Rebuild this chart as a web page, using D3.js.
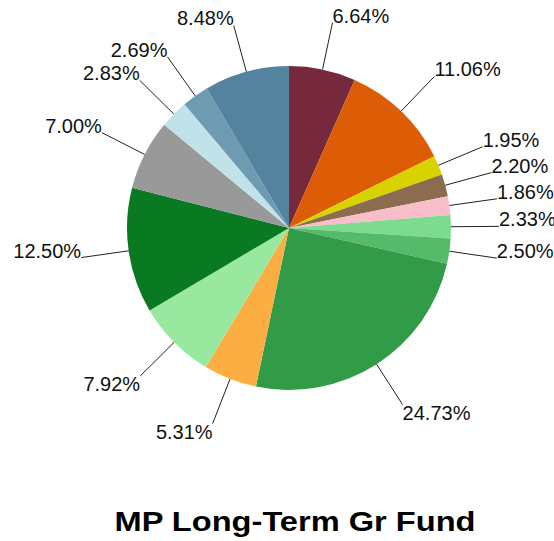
<!DOCTYPE html>
<html><head><meta charset="utf-8">
<script src="https://cdn.jsdelivr.net/npm/d3@7"></script>
<style>html,body{margin:0;padding:0;background:#fff;}svg{display:block;}</style>
</head><body>
<script>
const labels = ["6.64%","11.06%","1.95%","2.20%","1.86%","2.33%","2.50%","24.73%","5.31%","7.92%","12.50%","7.00%","2.83%","2.69%","8.48%"];
const values = [6.64,11.06,1.95,2.20,1.86,2.33,2.50,24.73,5.31,7.92,12.50,7.00,2.83,2.69,8.48];
const colors = ["#76293c","#dc5d05","#d8d200","#8c6c4f","#f9bdca","#7ddb8f","#55bb6b","#319b48","#fdae42","#98e8a0","#0a7a22","#999999","#c1e2e9","#6f9bb2","#53839e"];
const title = "MP Long-Term Gr Fund";

const W = 554, H = 541, cx = 289, cy = 228, R = 162, LR = 210;
const svg = d3.select("body").append("svg").attr("width", W).attr("height", H);
const g = svg.append("g").attr("transform", `translate(${cx},${cy})`);
const pie = d3.pie().sort(null).value(d => d)(values);
const arc = d3.arc().innerRadius(0).outerRadius(R);
g.selectAll("path.s").data(pie).join("path").attr("class","s")
  .attr("d", arc).attr("fill", (d,i) => colors[i]);
const font = "'Liberation Sans', Arial, sans-serif";
pie.forEach((d,i) => {
  const a = (d.startAngle + d.endAngle)/2;
  const x1 = R*Math.sin(a), y1 = -R*Math.cos(a);
  const x2 = LR*Math.sin(a), y2 = -LR*Math.cos(a);
  g.append("line").attr("x1",x1).attr("y1",y1).attr("x2",x2).attr("y2",y2)
    .attr("stroke","#222").attr("stroke-width",1);
  const below = Math.cos(a) < -0.3;
  g.append("text").attr("x", x2).attr("y", below ? y2 + 15 : y2)
    .attr("text-anchor", x2 >= 0 ? "start" : "end")
    .attr("font-family", font).attr("font-size", 20).attr("fill","#111")
    .text(labels[i]);
});
svg.append("text").attr("x", 114.5).attr("y", 531).attr("text-anchor","start")
  .attr("font-family", font).attr("font-weight","bold").attr("font-size", 28)
  .attr("textLength", 361).attr("lengthAdjust","spacingAndGlyphs")
  .attr("fill","#000").text(title);
</script>
</body></html>
